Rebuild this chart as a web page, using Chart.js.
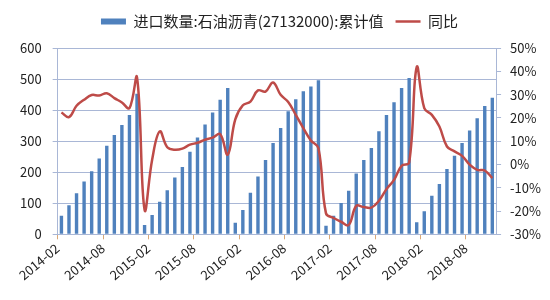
<!DOCTYPE html>
<html>
<head>
<meta charset="utf-8">
<script src="https://cdn.jsdelivr.net/npm/chart.js@4"></script>
<style>
  html, body { margin: 0; padding: 0; background: #fff; }
  #wrap { width: 550px; height: 300px; }
</style>
</head>
<body>
<div id="wrap"><canvas id="chart" width="550" height="300"></canvas></div>
<script>
// month labels, 2014-02 .. 2018-11
const months = [
    '2014-02', '2014-03', '2014-04', '2014-05', '2014-06', '2014-07', '2014-08', '2014-09', '2014-10', '2014-11', '2014-12',
    '2015-01', '2015-02', '2015-03', '2015-04', '2015-05', '2015-06', '2015-07', '2015-08', '2015-09', '2015-10', '2015-11', '2015-12',
    '2016-01', '2016-02', '2016-03', '2016-04', '2016-05', '2016-06', '2016-07', '2016-08', '2016-09', '2016-10', '2016-11', '2016-12',
    '2017-01', '2017-02', '2017-03', '2017-04', '2017-05', '2017-06', '2017-07', '2017-08', '2017-09', '2017-10', '2017-11', '2017-12',
    '2018-01', '2018-02', '2018-03', '2018-04', '2018-05', '2018-06', '2018-07', '2018-08', '2018-09', '2018-10', '2018-11'
];

// 进口数量:石油沥青 累计值
const importCum = [
    60, 94, 132, 170, 203, 244, 285, 320, 352, 384, 453,
    30, 62, 105, 142, 183, 217, 266, 312, 354, 392, 433, 471,
    37, 78, 134, 186, 239, 294, 342, 396, 435, 461, 476, 496,
    28, 60, 101, 140, 196, 239, 278, 332, 384, 425, 471, 503,
    39, 74, 124, 162, 210, 253, 294, 334, 374, 413, 440
];

// 同比 (%)
const yoy = [
    22.3, 20.3, 25.2, 27.8, 29.8, 29.6, 30.6, 28.5, 26.6, 24.2, 37.4,
    -19.5, 2.0, 14.2, 7.4, 6.3, 6.8, 8.5, 9.3, 10.6, 11.5, 13.0, 4.2,
    19.4, 25.4, 27.0, 31.8, 31.3, 35.2, 29.9, 26.8, 21.3, 15.6, 10.3, 7.0,
    -21.0, -23.0, -24.6, -26.0, -17.8, -18.3, -18.5, -15.6, -10.6, -6.6, -0.6, 0.8,
    41.8, 24.2, 21.3, 16.3, 7.7, 5.6, 3.7, -0.1, -2.3, -2.6, -5.9
];

// tick labels
const leftTicks = [0, 100, 200, 300, 400, 500, 600];
const rightTicks = [-30, -20, -10, 0, 10, 20, 30, 40, 50];

const barColor = '#4F81BD';
const lineColor = '#BE4B48';
const gridColor = '#A9B7D6';
const fontFamily = '"Noto Sans CJK SC", "Noto Sans", sans-serif';

// extra room under the legend
const legendGap = {
    id: 'legendGap',
    beforeInit(chart) {
        const fit = chart.legend.fit;
        chart.legend.fit = function() {
            fit.call(this);
            this.height += 9;
        };
    }
};

const ctx = document.getElementById('chart').getContext('2d');

new Chart(ctx, {
    data: {
        labels: months,
        datasets: [
            {
                type: 'line',
                label: '同比',
                data: yoy,
                yAxisID: 'y1',
                borderColor: lineColor,
                backgroundColor: lineColor,
                borderWidth: 2.5,
                pointRadius: 0,
                tension: 0.4,
                pointStyle: 'line',
                order: 0
            },
            {
                type: 'bar',
                label: '进口数量:石油沥青(27132000):累计值',
                data: importCum,
                yAxisID: 'y',
                backgroundColor: barColor,
                borderWidth: 0,
                categoryPercentage: 1,
                barPercentage: 0.45,
                pointStyle: 'rect',
                order: 1
            }
        ]
    },
    plugins: [legendGap],
    options: {
        responsive: false,
        animation: false,
        layout: {
            padding: { left: 9, right: 0, top: 2, bottom: 16 }
        },
        plugins: {
            tooltip: { enabled: false },
            legend: {
                position: 'top',
                reverse: true,
                labels: {
                    usePointStyle: true,
                    pointStyleWidth: 25,
                    boxHeight: 6,
                    padding: 12,
                    color: '#222',
                    font: { family: fontFamily, size: 15 }
                }
            }
        },
        scales: {
            x: {
                type: 'category',
                offset: true,
                grid: {
                    offset: true,
                    drawOnChartArea: false,
                    drawTicks: true,
                    tickLength: 5,
                    color: (c) => (c.index !== undefined && c.index % 6 === 0) ? '#D9A878' : 'rgba(0,0,0,0)'
                },
                border: { display: true, color: gridColor },
                ticks: {
                    autoSkip: false,
                    minRotation: 40,
                    maxRotation: 40,
                    padding: 1,
                    labelOffset: -4,
                    color: '#222',
                    font: { family: fontFamily, size: 13 },
                    callback: (v, i) => (i % 6 === 0 ? months[i] : '')
                }
            },
            y: {
                position: 'left',
                min: 0,
                max: 600,
                afterBuildTicks: (s) => { s.ticks = leftTicks.map(v => ({ value: v })); },
                grid: { color: gridColor, tickLength: 5 },
                border: { display: true, color: gridColor },
                ticks: {
                    padding: 11,
                    color: '#222',
                    font: { family: fontFamily, size: 13 }
                }
            },
            y1: {
                position: 'right',
                min: -30,
                max: 50,
                afterBuildTicks: (s) => { s.ticks = rightTicks.map(v => ({ value: v })); },
                grid: { drawOnChartArea: false, color: gridColor, tickLength: 5 },
                border: { display: true, color: gridColor },
                ticks: {
                    padding: 9,
                    color: '#222',
                    font: { family: fontFamily, size: 13 },
                    callback: (v) => v + '%'
                }
            }
        }
    }
});
</script>
</body>
</html>
